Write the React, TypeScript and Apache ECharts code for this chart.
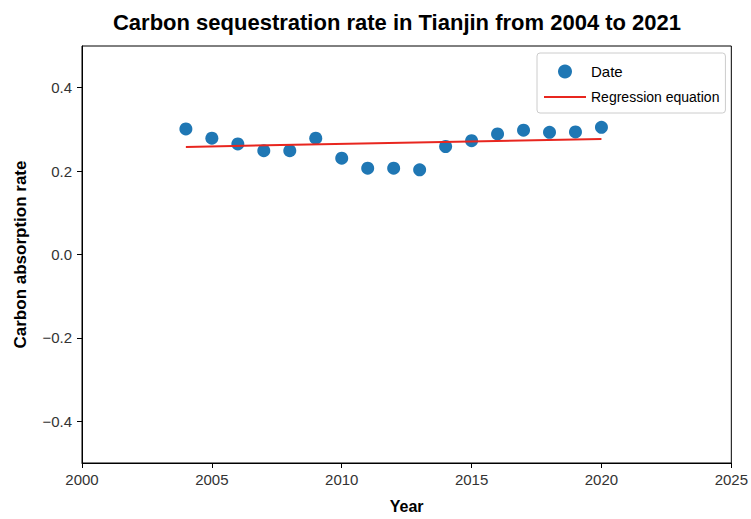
import React, { useEffect, useRef } from "react";
import * as echarts from "echarts";

const years = [2004, 2005, 2006, 2007, 2008, 2009, 2010, 2011, 2012, 2013, 2014, 2015, 2016, 2017, 2018, 2019, 2020];
const rates = [0.301, 0.279, 0.265, 0.249, 0.249, 0.279, 0.231, 0.207, 0.207, 0.203, 0.259, 0.273, 0.289, 0.298, 0.293, 0.294, 0.305];
const regressionYears = [2004, 2020];
const regressionValues = [0.258, 0.277];
const yTicks = [-0.4, -0.2, 0, 0.2, 0.4];

const titleText = "Carbon sequestration rate in Tianjin from 2004 to 2021";
const xName = "Year";
const yName = "Carbon absorption rate";

export default function App() {
  const ref = useRef<HTMLDivElement>(null);
  useEffect(() => {
    if (!ref.current) return;
    const chart = echarts.init(ref.current, null, { renderer: "svg" });
    const font = "'Liberation Sans', Arial, sans-serif";
    chart.setOption({
      animation: false,
      backgroundColor: "#fff",
      title: {
        text: titleText,
        left: 392,
        textAlign: "center",
        top: 6,
        textStyle: { fontFamily: font, fontSize: 22, fontWeight: "bold", color: "#000" },
      },
      grid: {
        left: 82,
        right: 18,
        top: 46,
        bottom: 55,
        show: true,
        borderColor: "#000",
        borderWidth: 1,
        backgroundColor: "transparent",
      },
      legend: {
        left: 537,
        top: 53,
        orient: "vertical",
        borderColor: "#ccc",
        borderWidth: 1,
        borderRadius: 3,
        padding: [11, 6, 9, 6],
        itemWidth: 42,
        itemHeight: 14,
        itemGap: 11,
        width: 186,
        data: [
          { name: "Date", icon: "circle", textStyle: { fontFamily: font, fontSize: 15, color: "#000" } },
          {
            name: "Regression equation",
            itemStyle: { opacity: 0 },
            textStyle: { fontFamily: "'Liberation Sans Narrow', 'Liberation Sans', sans-serif", fontSize: 14, color: "#000" },
          },
        ],
      },
      xAxis: {
        type: "value",
        min: 2000,
        max: 2025,
        interval: 5,
        name: xName,
        nameLocation: "middle",
        nameGap: 35,
        nameTextStyle: { fontFamily: font, fontSize: 16, fontWeight: "bold", color: "#000" },
        axisLine: { show: true, onZero: false, lineStyle: { color: "#000", width: 1 } },
        axisTick: { show: true, length: 5, inside: false, lineStyle: { color: "#000" } },
        axisLabel: { fontFamily: font, fontSize: 15, color: "#333", margin: 9, formatter: (v: number) => String(v) },
        splitLine: { show: false },
      },
      yAxis: {
        type: "value",
        min: -0.5,
        max: 0.5,
        name: yName,
        nameLocation: "middle",
        nameGap: 53,
        nameRotate: 90,
        nameTextStyle: { fontFamily: font, fontSize: 17, fontWeight: "bold", color: "#000" },
        axisLine: { show: true, onZero: false, lineStyle: { color: "#000", width: 1 } },
        axisTick: { show: true, length: 5, lineStyle: { color: "#000" }, customValues: yTicks },
        axisLabel: {
          fontFamily: font,
          fontSize: 15,
          color: "#333",
          margin: 10,
          customValues: yTicks,
          formatter: (v: number) => {
            const s = Math.abs(v).toFixed(1);
            return v < -1e-9 ? "\u2212" + s : s;
          },
        },
        splitLine: { show: false },
      },
      series: [
        {
          name: "Date",
          type: "scatter",
          symbol: "circle",
          symbolSize: 13,
          itemStyle: { color: "#1f77b4", opacity: 1 },
          data: years.map((y, i) => [y, rates[i]]),
          z: 3,
        },
        {
          name: "Regression equation",
          type: "line",
          symbol: "none",
          lineStyle: { color: "#e8261f", width: 2 },
          itemStyle: { color: "#e8261f" },
          data: regressionYears.map((y, i) => [y, regressionValues[i]]),
          z: 4,
        },
      ],
    });
    return () => chart.dispose();
  }, []);
  return <div ref={ref} style={{ width: 751, height: 519, position: "absolute", left: 0, top: 0 }} />;
}
